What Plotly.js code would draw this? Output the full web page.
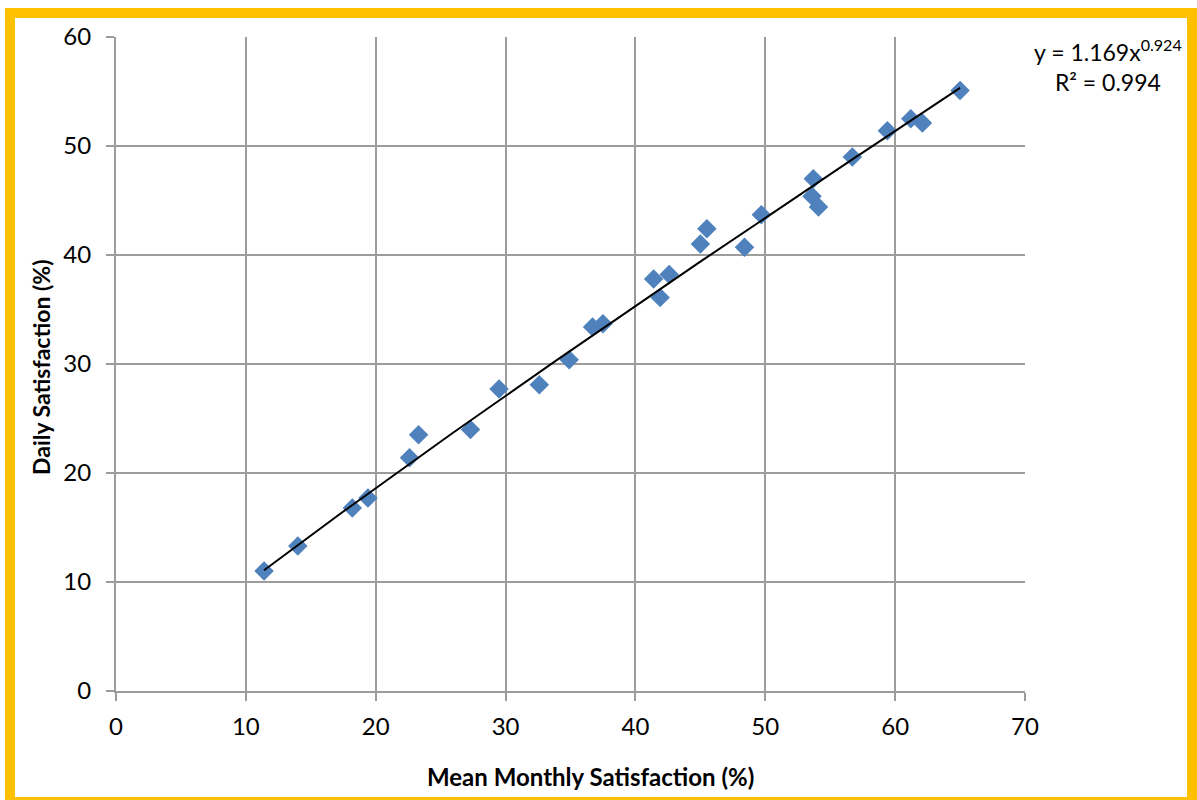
<!DOCTYPE html>
<html><head><meta charset="utf-8">
<script src="https://cdn.plot.ly/plotly-3.0.1.min.js"></script>
<style>html,body{margin:0;padding:0;background:#fff}#chart{width:1197px;height:800px}</style>
</head><body><div id="chart"></div>
<script>
const monthly = [11.4, 14.0, 18.2, 19.4, 22.6, 23.3, 27.3, 29.5, 32.6, 34.9, 36.7, 37.5, 41.4, 42.6, 41.9, 45.0, 45.5, 48.4, 49.7, 53.7, 53.6, 54.1, 56.7, 59.4, 61.2, 62.1, 65.0];
const daily   = [11.0, 13.3, 16.8, 17.7, 21.4, 23.5, 24.0, 27.7, 28.1, 30.4, 33.4, 33.7, 37.8, 38.2, 36.1, 41.0, 42.4, 40.7, 43.7, 47.0, 45.4, 44.4, 49.0, 51.4, 52.5, 52.1, 55.1];
const fitCoef = 1.169, fitExp = 0.924, fitR2 = 0.994;
const xTicks = [0,10,20,30,40,50,60,70];
const yTicks = [0,10,20,30,40,50,60];

const xmin = Math.min(...monthly), xmax = Math.max(...monthly);
const tx = [], ty = [];
for (let i = 0; i <= 100; i++) {
  const x = xmin + (xmax - xmin) * i / 100;
  tx.push(x); ty.push(fitCoef * Math.pow(x, fitExp));
}
const font = 'Lato, "Open Sans", sans-serif';
const data = [
  {x: monthly, y: daily, type: 'scatter', mode: 'markers',
   marker: {symbol: 'diamond', size: 15, color: '#4F81BD'}, hoverinfo: 'x+y'},
  {x: tx, y: ty, type: 'scatter', mode: 'lines', line: {color: '#000', width: 2}, hoverinfo: 'skip'}
];
const axisCommon = {showgrid: true, gridcolor: '#9c9c9c', gridwidth: 2, showline: true, linecolor: '#9c9c9c', linewidth: 2,
  ticks: 'outside', ticklen: 8, tickwidth: 2, tickcolor: '#9c9c9c', zeroline: false,
  tickfont: {family: font, size: 24, color: '#000'}};
const layout = {
  width: 1197, height: 800,
  margin: {l: 116, r: 172, t: 37, b: 109},
  paper_bgcolor: '#fff', plot_bgcolor: '#fff',
  showlegend: false,
  font: {family: font, color: '#000'},
  xaxis: Object.assign({}, axisCommon, {range: [0, 70], tickvals: xTicks, ticklabelstandoff: 5, fixedrange: true}),
  yaxis: Object.assign({}, axisCommon, {range: [0, 60], tickvals: yTicks, ticklabelstandoff: 10, fixedrange: true}),
  annotations: [
    {xref: 'paper', yref: 'paper', x: (590 - 116) / 909, y: (691 - 776) / 654, text: '<b>Mean Monthly Satisfaction (%)</b>',
     showarrow: false, font: {family: font, size: 24, color: '#000'}, xanchor: 'center', yanchor: 'middle'},
    {xref: 'paper', yref: 'paper', x: (41 - 116) / 909, y: (691 - 367) / 654, text: '<b>Daily Satisfaction (%)</b>',
     showarrow: false, textangle: -90, font: {family: font, size: 23, color: '#000'}, xanchor: 'center', yanchor: 'middle'},
    {xref: 'paper', yref: 'paper', x: (1108 - 116) / 909, y: (691 - 65) / 654,
     text: 'y = ' + fitCoef.toFixed(3) + 'x<sup>' + fitExp.toFixed(3) + '</sup><br>R² = ' + fitR2.toFixed(3),
     showarrow: false, align: 'center', font: {family: font, size: 23, color: '#000'}, xanchor: 'center', yanchor: 'middle'}
  ],
  shapes: [
    {type: 'rect', xref: 'paper', yref: 'paper', x0: (10 - 116) / 909, x1: (1192 - 116) / 909,
     y0: (691 - 802) / 654, y1: (691 - 13) / 654, line: {color: '#FFC000', width: 10}, layer: 'above'}
  ]
};
Plotly.newPlot('chart', data, layout, {displayModeBar: false, staticPlot: true});
</script></body></html>
